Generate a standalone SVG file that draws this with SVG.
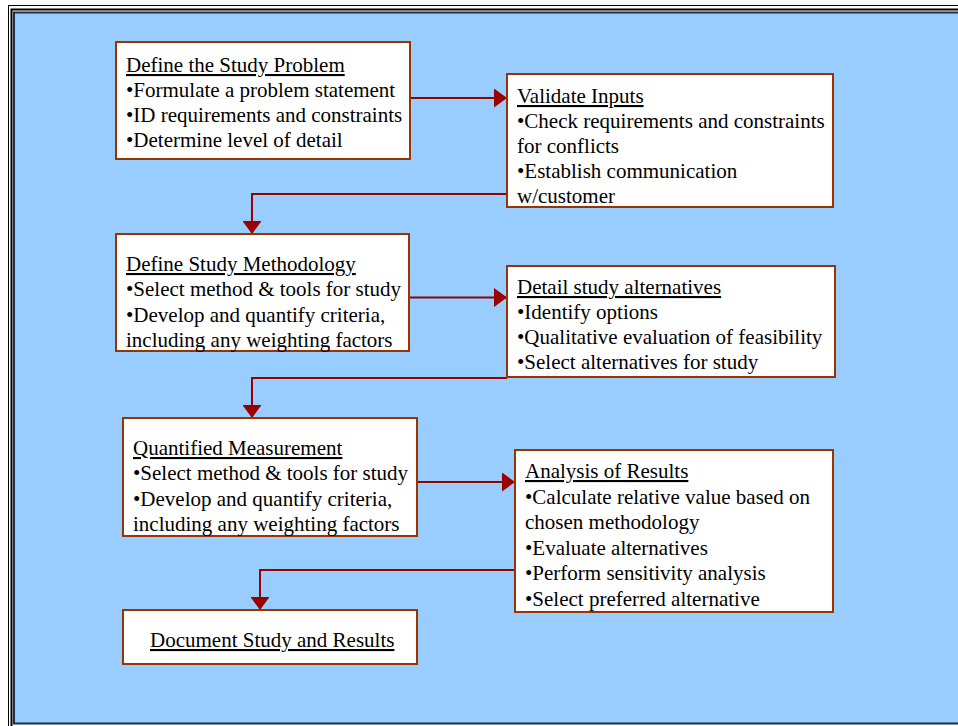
<svg xmlns="http://www.w3.org/2000/svg" width="958" height="726" viewBox="0 0 958 726">
  <style>
    .box { fill: #FFFFFF; stroke: #993300; stroke-width: 2; }
    .txt { font-family: "Liberation Serif", "Times New Roman", serif; font-size: 21px; fill: #000000; }
    .ttl { text-decoration: underline; }
    .conn { fill: none; stroke: #990000; stroke-width: 2; }
  </style>
  <defs>
    <marker id="arrow" viewBox="0 0 13 19" refX="13" refY="9.5" markerWidth="13" markerHeight="19" markerUnits="userSpaceOnUse" orient="auto">
      <path d="M0,0 L13,9.5 L0,19 Z" fill="#990000"/>
    </marker>
  </defs>

  <!-- page frame -->
  <rect x="0" y="0" width="958" height="726" fill="#FFFFFF"/>
  <rect x="8.5" y="5.5" width="1000" height="1000" fill="none" stroke="#000000" stroke-width="1"/>
  <rect x="11.5" y="9.5" width="1000" height="1000" fill="none" stroke="#000000" stroke-width="2"/>
  <rect x="14" y="12.5" width="1000" height="711" fill="#99CCFF" stroke="#1F2E45" stroke-width="2"/>

  <!-- connectors -->
  <g id="connectors">
    <path class="conn" d="M410,98 H507" marker-end="url(#arrow)"/>
    <path class="conn" d="M507,194 H252 V234" marker-end="url(#arrow)"/>
    <path class="conn" d="M410,297.5 H507" marker-end="url(#arrow)"/>
    <path class="conn" d="M507,378 H252 V418" marker-end="url(#arrow)"/>
    <path class="conn" d="M417,482 H515" marker-end="url(#arrow)"/>
    <path class="conn" d="M515,570 H260 V610" marker-end="url(#arrow)"/>
  </g>

  <g id="define-problem">
    <rect class="box" x="116" y="42" width="294" height="117"/>
    <text class="txt" x="126"><tspan class="ttl" x="126" y="72">Define the Study Problem</tspan><tspan x="126" y="97">•Formulate a problem statement</tspan><tspan x="126" y="122">•ID requirements and constraints</tspan><tspan x="126" y="147">•Determine level of detail</tspan></text>
  </g>

  <g id="validate-inputs">
    <rect class="box" x="507" y="74" width="326" height="133"/>
    <text class="txt"><tspan class="ttl" x="517" y="103">Validate Inputs</tspan><tspan x="517" y="128">•Check requirements and constraints</tspan><tspan x="517" y="153">for conflicts</tspan><tspan x="517" y="178">•Establish communication</tspan><tspan x="517" y="203">w/customer</tspan></text>
  </g>

  <g id="define-methodology">
    <rect class="box" x="116" y="234" width="293" height="117"/>
    <text class="txt"><tspan class="ttl" x="126" y="271">Define Study Methodology</tspan><tspan x="126" y="296">•Select method &amp; tools for study</tspan><tspan x="126" y="321.5">•Develop and quantify criteria,</tspan><tspan x="126" y="346.5">including any weighting factors</tspan></text>
  </g>

  <g id="detail-alternatives">
    <rect class="box" x="507" y="266" width="328" height="111"/>
    <text class="txt"><tspan class="ttl" x="517" y="294">Detail study alternatives</tspan><tspan x="517" y="319">•Identify options</tspan><tspan x="517" y="344">•Qualitative evaluation of feasibility</tspan><tspan x="517" y="369">•Select alternatives for study</tspan></text>
  </g>

  <g id="quantified-measurement">
    <rect class="box" x="123" y="418" width="294" height="118"/>
    <text class="txt"><tspan class="ttl" x="133" y="455">Quantified Measurement</tspan><tspan x="133" y="480">•Select method &amp; tools for study</tspan><tspan x="133" y="505.5">•Develop and quantify criteria,</tspan><tspan x="133" y="530.5">including any weighting factors</tspan></text>
  </g>

  <g id="analysis-results">
    <rect class="box" x="515" y="450" width="318" height="162"/>
    <text class="txt"><tspan class="ttl" x="525" y="478">Analysis of Results</tspan><tspan x="525" y="504">•Calculate relative value based on</tspan><tspan x="525" y="529">chosen methodology</tspan><tspan x="525" y="555">•Evaluate alternatives</tspan><tspan x="525" y="580">•Perform sensitivity analysis</tspan><tspan x="525" y="606">•Select preferred alternative</tspan></text>
  </g>

  <g id="document-results">
    <rect class="box" x="123" y="610" width="294" height="54"/>
    <text class="txt ttl" x="150" y="647">Document Study and Results</text>
  </g>
</svg>
